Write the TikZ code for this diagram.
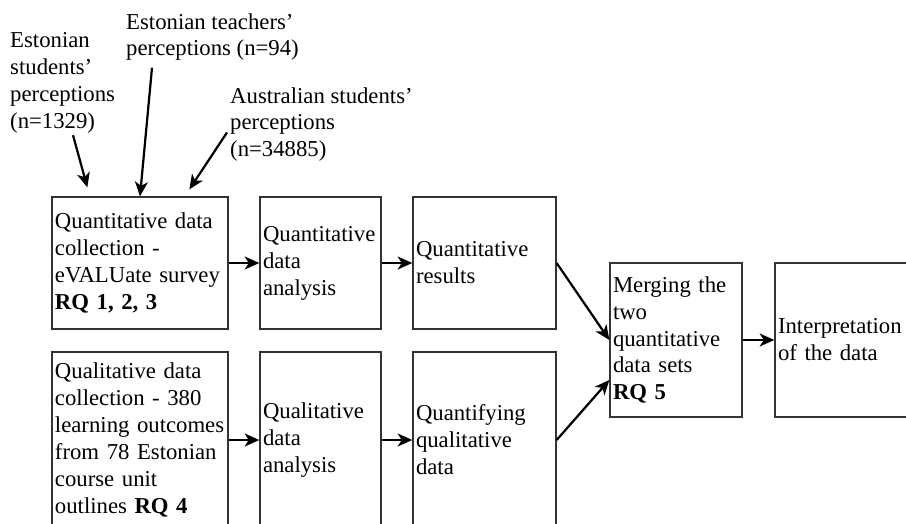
\documentclass[tikz,border=0pt]{standalone}
\usepackage{fontspec}
\setmainfont{Liberation Serif}
\usetikzlibrary{arrows.meta}

\begin{document}
\begin{tikzpicture}[x=0.03cm,y=-0.03cm,
	every node/.style={font=\fontsize{19.4}{23}\selectfont},
	box/.style={draw=black!80,line width=1.1pt,rectangle,align=left,inner xsep=0.09cm,inner ysep=0pt,text width=#1},
	lbl/.style={align=left,inner sep=0pt,anchor=north west},
	arr/.style={line width=1.9pt,-{Stealth[length=12.5pt,width=11pt,inset=3.5pt]}}]
	\clip (0,0) rectangle (906,523);

	%sources
	\node[lbl](stud) at (10,32) {Estonian\\students'\\perceptions\\(n=1329)};
	\node[lbl](teach) at (126,13) {Estonian teachers'\\perceptions (n=94)};
	\node[lbl](aus) at (230,87) {Australian students'\\perceptions\\(n=34885)};

	%quantitative strand
	\node[box=5.10cm,minimum height=3.96cm](quan) at (140,263)
	{Quantitative data\\collection -\\eVALUate survey\\\textbf{RQ 1, 2, 3}};
	\node[box=3.45cm,minimum height=3.96cm](qana) at (320.5,263) {Quantitative\\data\\analysis};
	\node[box=4.11cm,minimum height=3.96cm](qres) at (484.5,263) {Quantitative\\results};

	%qualitative strand
	\node[box=5.10cm,minimum height=5.28cm](qual) at (140,440)
	{Qualitative data\\collection - 380\\learning outcomes\\from 78 Estonian\\course unit\\outlines \textbf{RQ 4}};
	\node[box=3.45cm,minimum height=5.28cm](lana) at (320.5,440) {Qualitative\\data\\analysis};
	\node[box=4.11cm,minimum height=5.28cm](lquant) at (484.5,440) {Quantifying\\qualitative\\data};

	%merge
	\node[box=3.78cm,minimum height=4.62cm](merge) at (676,340)
	{Merging the\\two\\quantitative\\data sets\\\textbf{RQ 5}};
	\node[box=3.87cm,minimum height=4.62cm](interp) at (842.5,340) {Interpretation\\of the data};

	%arrows
	\draw[arr] ([xshift=1.89cm,yshift=-0.06cm]stud.south west) -- ([xshift=1.08cm,yshift=0.27cm]quan.north west);
	\draw[arr] ([xshift=0.78cm,yshift=-0.2cm]teach.south west) -- (quan.north);
	\draw[arr] ([xshift=-0.09cm,yshift=-0.24cm]aus.west) -- ([xshift=4.14cm,yshift=0.21cm]quan.north west);

	\draw[arr] (quan) -- (qana);
	\draw[arr] (qana) -- (qres);
	\draw[arr] (qual) -- (lana);
	\draw[arr] (lana) -- (lquant);
	\draw[arr] (qres.east) -- (merge.west);
	\draw[arr] (lquant.east) -- ([yshift=-1.2cm]merge.west);
	\draw[arr] (merge) -- (interp);

\end{tikzpicture}
\end{document}
